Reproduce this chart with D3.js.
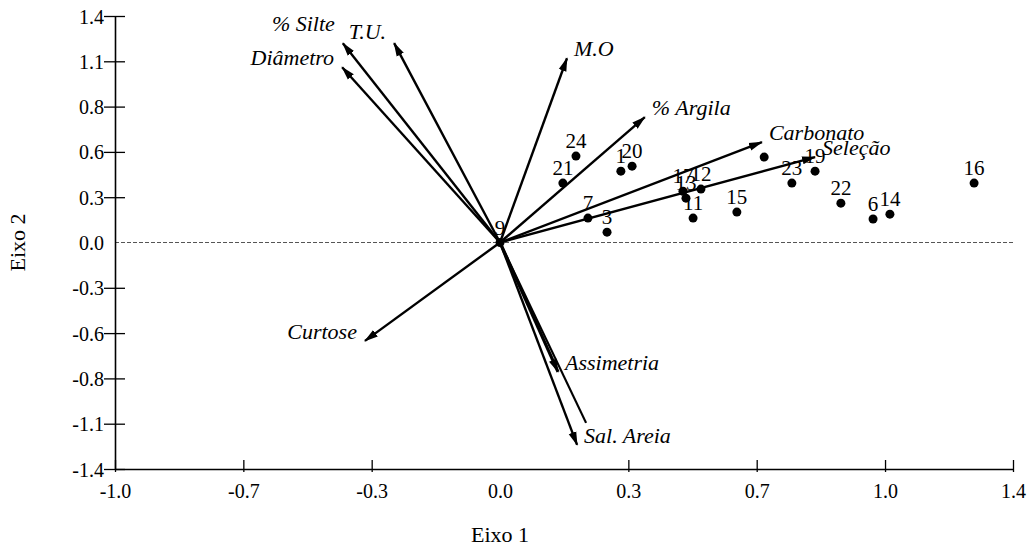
<!DOCTYPE html>
<html>
<head>
<meta charset="utf-8">
<script src="https://cdn.jsdelivr.net/npm/d3@7"></script>
<style>
  body { margin: 0; background: #fff; }
  text { font-family: "Liberation Serif", "Times New Roman", serif; fill: #000; }
</style>
</head>
<body>
<div id="chart"></div>
<script>
// Axis ticks (labels as printed on the chart)
var xTickValues = [-1.029, -0.686, -0.343, 0, 0.343, 0.686, 1.029, 1.371];
var xTickLabels = ["-1.0", "-0.7", "-0.3", "0.0", "0.3", "0.7", "1.0", "1.4"];
var yTickValues = [-1.4, -1.12, -0.84, -0.56, -0.28, 0, 0.28, 0.56, 0.84, 1.12, 1.4];
var yTickLabels = ["-1.4", "-1.1", "-0.8", "-0.6", "-0.3", "0.0", "0.3", "0.6", "0.8", "1.1", "1.4"];

// Variable vectors (arrows from the origin)
var vectorNames = ["% Silte", "T.U.", "Diâmetro", "M.O", "% Argila", "Carbonato", "Seleção", "Curtose", "Assimetria", "Sal. Areia"];
var vectorX = [-0.420, -0.283, -0.422, 0.179, 0.387, 0.700, 0.842, -0.361, 0.155, 0.206];
var vectorY = [1.232, 1.232, 1.083, 1.139, 0.775, 0.620, 0.528, -0.608, -0.800, -1.251];

// unlabelled line without arrow head next to Sal. Areia
var plainLineX = [0.230];
var plainLineY = [-1.115];

// Sample points
var pointLabels = ["1", "20", "24", "21", "7", "3", "9", "17", "13", "12", "11", "15", "", "19", "23", "22", "6", "14", "16"];
var pointX = [0.323, 0.353, 0.203, 0.168, 0.235, 0.286, 0.000, 0.489, 0.497, 0.537, 0.516, 0.633, 0.706, 0.842, 0.780, 0.911, 0.997, 1.042, 1.267];
var pointY = [0.441, 0.472, 0.534, 0.367, 0.151, 0.064, 0.000, 0.317, 0.274, 0.330, 0.151, 0.188, 0.528, 0.441, 0.367, 0.243, 0.145, 0.175, 0.367];

var margin = { top: 16, right: 18, bottom: 82, left: 115 },
    width = 1031 - margin.left - margin.right,
    height = 551 - margin.top - margin.bottom;

var svg = d3.select("#chart")
    .append("svg")
    .attr("width", 1031)
    .attr("height", 551)
    .append("g")
    .attr("transform", "translate(" + margin.left + "," + margin.top + ")");

var x = d3.scaleLinear()
    .domain([-1.029, 1.371])
    .range([0, width]);

var y = d3.scaleLinear()
    .domain([-1.4, 1.4])
    .range([height, 0]);

// arrow head
svg.append("defs").append("marker")
    .attr("id", "head")
    .attr("viewBox", "0 -5 14 10")
    .attr("refX", 13)
    .attr("refY", 0)
    .attr("markerUnits", "userSpaceOnUse")
    .attr("markerWidth", 14)
    .attr("markerHeight", 10)
    .attr("orient", "auto")
    .append("path")
    .attr("d", "M0,-4L14,0L0,4Z")
    .style("fill", "#000");

// dashed zero line
svg.append("line")
    .attr("x1", 0)
    .attr("x2", width)
    .attr("y1", y(0))
    .attr("y2", y(0))
    .style("stroke", "#555")
    .style("stroke-width", 1)
    .style("stroke-dasharray", "4,2");

// x axis
var xAxis = svg.append("g")
    .attr("transform", "translate(0," + height + ")")
    .call(d3.axisBottom(x)
        .tickValues(xTickValues)
        .tickFormat(function (d, i) { return xTickLabels[i]; })
        .tickSizeOuter(0));

xAxis.select(".domain").style("stroke-width", 1.6);
xAxis.selectAll(".tick line")
    .attr("y1", -9)
    .attr("y2", 3)
    .style("stroke-width", 1.3)
    .style("display", function (d) { return d === 0 ? "none" : null; });
xAxis.selectAll(".tick text")
    .attr("y", 29)
    .attr("dy", 0)
    .style("font-size", "20px")
    .style("font-family", "'Liberation Serif', serif");

// y axis
var yAxis = svg.append("g")
    .call(d3.axisLeft(y)
        .tickValues(yTickValues)
        .tickFormat(function (d, i) { return yTickLabels[i]; })
        .tickSizeOuter(0));

yAxis.select(".domain").style("stroke-width", 1.6);
yAxis.selectAll(".tick line")
    .attr("x1", -11)
    .attr("x2", 10)
    .style("stroke-width", 1.3)
    .style("display", function (d) { return d === 0 ? "none" : null; });
yAxis.selectAll(".tick text")
    .attr("x", -11)
    .attr("dy", "0.35em")
    .style("font-size", "20px")
    .style("font-family", "'Liberation Serif', serif");

// plain line
svg.selectAll(".plain")
    .data(plainLineX)
    .enter()
    .append("line")
    .attr("class", "plain")
    .attr("x1", x(0))
    .attr("y1", y(0))
    .attr("x2", function (d) { return x(d); })
    .attr("y2", function (d, i) { return y(plainLineY[i]); })
    .style("stroke", "#000")
    .style("stroke-width", 2.2);

// vectors
var vectors = vectorNames.map(function (n, i) {
    return { name: n, x: vectorX[i], y: vectorY[i] };
});

svg.selectAll(".vec")
    .data(vectors)
    .enter()
    .append("line")
    .attr("class", "vec")
    .attr("x1", x(0))
    .attr("y1", y(0))
    .attr("x2", function (d) { return x(d.x); })
    .attr("y2", function (d) { return y(d.y); })
    .attr("marker-end", "url(#head)")
    .style("stroke", "#000")
    .style("stroke-width", function (d) { return d.name === "Assimetria" ? 3.2 : 2.4; });

// label placement tweaks for a few crowded arrows
var labelNudge = {
    "% Silte": { dx: -8, dy: -12, anchor: "end" },
    "T.U.": { dx: -8, dy: -4, anchor: "end" }
};

svg.selectAll(".vlab")
    .data(vectors)
    .enter()
    .append("text")
    .attr("class", "vlab")
    .attr("x", function (d) {
        var n = labelNudge[d.name];
        return x(d.x) + (n ? n.dx : (d.x < 0 ? -8 : 7));
    })
    .attr("y", function (d) {
        var n = labelNudge[d.name];
        return y(d.y) + (n ? n.dy : -2);
    })
    .attr("text-anchor", function (d) {
        var n = labelNudge[d.name];
        return n ? n.anchor : (d.x < 0 ? "end" : "start");
    })
    .style("font-style", "italic")
    .style("font-size", "22px")
    .text(function (d) { return d.name; });

// points
var points = pointLabels.map(function (l, i) {
    return { label: l, x: pointX[i], y: pointY[i] };
});

svg.selectAll(".pt")
    .data(points)
    .enter()
    .append("circle")
    .attr("class", "pt")
    .attr("cx", function (d) { return x(d.x); })
    .attr("cy", function (d) { return y(d.y); })
    .attr("r", 4.5)
    .style("fill", "#000");

svg.selectAll(".plab")
    .data(points)
    .enter()
    .append("text")
    .attr("class", "plab")
    .attr("x", function (d) { return x(d.x); })
    .attr("y", function (d) { return y(d.y) - 8; })
    .attr("text-anchor", "middle")
    .style("font-size", "21px")
    .text(function (d) { return d.label; });

// axis titles
svg.append("text")
    .attr("x", x(0))
    .attr("y", height + 73)
    .attr("text-anchor", "middle")
    .style("font-size", "22px")
    .text("Eixo 1");

svg.append("text")
    .attr("transform", "rotate(-90)")
    .attr("x", -y(0))
    .attr("y", -margin.left + 25)
    .attr("text-anchor", "middle")
    .style("font-size", "22px")
    .text("Eixo 2");
</script>
</body>
</html>
